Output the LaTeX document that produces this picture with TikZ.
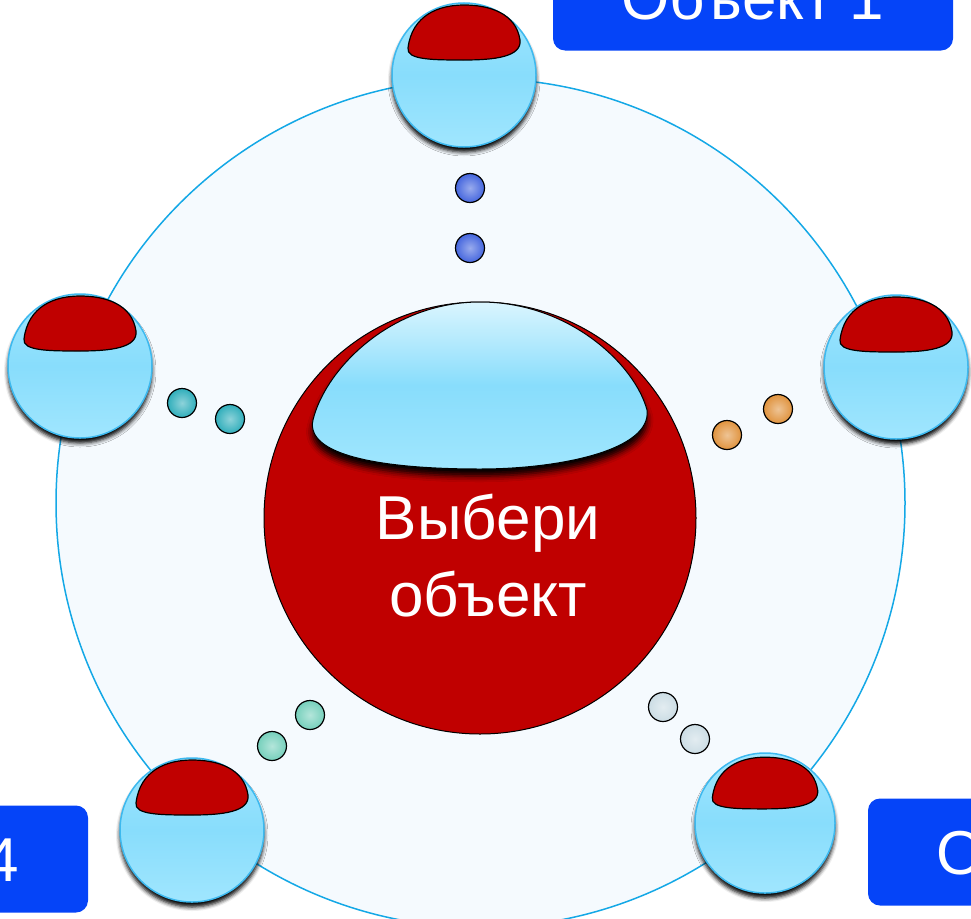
\documentclass[tikz,border=0pt]{standalone}
\usepackage{fontspec}
\setmainfont{Liberation Sans}
\usepackage{tikz}
\usetikzlibrary{shadows.blur}
\definecolor{capred}{HTML}{C00000}
\definecolor{ringblue}{HTML}{14A8E6}
\definecolor{paleblue}{HTML}{F5FAFE}
\definecolor{tagblue}{HTML}{0544F8}
\definecolor{glassedge}{HTML}{3DB9EF}
\definecolor{glasslight}{HTML}{A0E6FE}
\definecolor{glassmid}{HTML}{88DDFC}
\definecolor{glasstop}{HTML}{DAF5FE}
\definecolor{beadblue}{HTML}{4566DE}
\definecolor{beadorange}{HTML}{E0933E}
\definecolor{beadteal}{HTML}{30AEBB}
\definecolor{beadgreen}{HTML}{76D0BC}
\definecolor{beadgray}{HTML}{CCDDE5}
\tikzset{
  glass/.style={circle, inner sep=0pt, minimum size=144pt, draw=glassedge, line width=1.5pt,
    top color=glasslight, bottom color=glasslight, middle color=glassmid,
    blur shadow={shadow xshift=0pt, shadow yshift=-5pt, shadow opacity=100, shadow blur radius=4pt}},
  bead/.style={circle, inner sep=0pt, minimum size=29pt, draw=black, line width=1.2pt,
    inner color=#1!55!white, outer color=#1},
  tag/.style={rectangle, rounded corners=12pt, fill=tagblue, text=white,
    minimum width=400pt, minimum height=107pt, font=\fontsize{62}{74}\selectfont},
  redcap/.style={fill=capred, draw=black, line width=1.2pt}
}

\begin{document}
\begin{tikzpicture}[x=1pt, y=-1pt]
 \useasboundingbox (0,0) rectangle (971,918);
 \node[circle, inner sep=0pt, minimum size=849pt, draw=ringblue, line width=1.5pt, fill=paleblue] (ring) at (480.5,503) {};
 % centre
 \node[circle, inner sep=0pt, minimum size=432pt, draw=black, line width=1pt, fill=capred] (choose) at (480,518) {};
 \draw[black, line width=1pt, top color=glasstop, bottom color=glasslight, middle color=glassmid,
   blur shadow={shadow xshift=0pt, shadow yshift=-7pt, shadow opacity=100, shadow blur radius=6pt}]
   (313,420) .. controls (325,370) and (390,302) .. (480,302) .. controls (570,302) and (635,365) .. (647,410)
   .. controls (652,450) and (560,469) .. (480,469) .. controls (380,469) and (305,455) .. cycle;
 \node[text=white, font=\fontsize{62}{77}\selectfont, align=center, inner sep=0pt] (choosetext) at (488,556) {Выбери\\объект};
 % beads
 \node[bead=beadblue] (b1a) at (470,188) {};
 \node[bead=beadblue] (b1b) at (470,248) {};
 \node[bead=beadorange] (b2a) at (778,409) {};
 \node[bead=beadorange] (b2b) at (727,435) {};
 \node[bead=beadgray] (b3a) at (663,707) {};
 \node[bead=beadgray] (b3b) at (695,739) {};
 \node[bead=beadgreen] (b4a) at (310,715) {};
 \node[bead=beadgreen] (b4b) at (272,746) {};
 \node[bead=beadteal] (b5a) at (182,403) {};
 \node[bead=beadteal] (b5b) at (230,419) {};
 % objects
 \begin{scope}[every node/.style={glass}]
   \node (obj1) at (464,75) {};
   \node (obj2) at (896,367) {};
   \node[minimum size=140pt] (obj3) at (765,823) {};
   \node (obj4) at (192,830) {};
   \node (obj5) at (80,366) {};
 \end{scope}
 \foreach \o/\s in {obj1/1,obj2/1,obj3/0.94,obj4/1,obj5/1}
   \draw[redcap, shift={(\o.center)}, scale=\s] (-56,-27) .. controls (-52,-60) and (-25,-70) .. (0,-70)
     .. controls (25,-70) and (52,-62) .. (56,-35) .. controls (58,-18) and (30,-15) .. (0,-15)
     .. controls (-30,-15) and (-58,-15) .. cycle;
 \node[tag] (tag1) at (753,-3) {Объект 1};
 \node[tag] (tag3) at (1068,852) {Объект 3};
 \node[tag] (tag4) at (-112,859) {Объект 4};
\end{tikzpicture}
\end{document}
